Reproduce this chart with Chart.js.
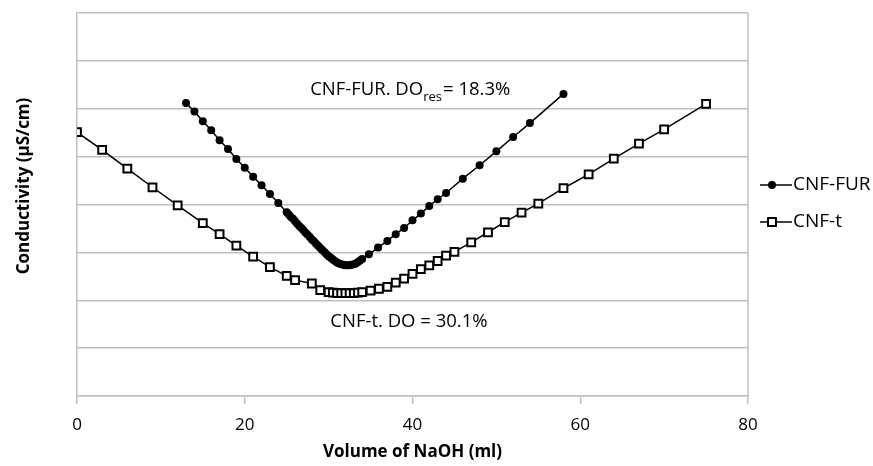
<!DOCTYPE html>
<html>
<head>
<meta charset="utf-8">
<script src="https://cdn.jsdelivr.net/npm/chart.js@4"></script>
<style>
  html, body { margin: 0; padding: 0; background: #fff; }
  #wrap { width: 873px; height: 466px; }
</style>
</head>
<body>
<div id="wrap"><canvas id="myChart" width="873" height="466"></canvas></div>
<script>
// CNF-FUR titration (volume of NaOH in ml, conductivity)
const furVol = [13,14,15,16,17,18,19,20,21,22,23,24,25,25.25,25.5,25.75,26,26.25,26.5,26.75,27,27.25,27.5,27.75,28,28.25,28.5,28.75,29,29.25,29.5,29.75,30,30.25,30.5,30.75,31,31.25,31.5,31.75,32,32.25,32.5,32.75,33,33.25,33.5,33.75,34,34.8,35.9,37,38,39,40,41,42,43,44,46,48,50,52,54,58];
const furCond = [6.12,5.94,5.74,5.55,5.34,5.16,4.95,4.77,4.58,4.40,4.22,4.03,3.84,3.79,3.74,3.70,3.65,3.60,3.55,3.51,3.46,3.41,3.37,3.32,3.27,3.23,3.18,3.14,3.09,3.05,3.01,2.96,2.92,2.89,2.85,2.82,2.79,2.77,2.75,2.74,2.73,2.73,2.73,2.74,2.75,2.77,2.80,2.83,2.86,2.96,3.10,3.24,3.38,3.51,3.67,3.81,3.97,4.11,4.24,4.54,4.82,5.11,5.41,5.70,6.31];

// CNF-t titration
const tVol = [0,3,6,9,12,15,17,19,21,23,25,26,28,29,30,30.5,31,31.5,32,32.5,33,33.5,34,35,36,37,38,39,40,41,42,43,44,45,47,49,51,53,55,58,61,64,67,70,75];
const tCond = [5.51,5.14,4.75,4.36,3.98,3.61,3.38,3.14,2.91,2.69,2.51,2.42,2.35,2.21,2.17,2.16,2.15,2.15,2.15,2.15,2.15,2.16,2.17,2.20,2.24,2.28,2.37,2.45,2.55,2.65,2.73,2.82,2.93,3.01,3.21,3.42,3.63,3.83,4.02,4.34,4.63,4.96,5.27,5.57,6.10];

const xTicks = [0, 20, 40, 60, 80];
const seriesNames = ['CNF-FUR', 'CNF-t'];
const yTitle = 'Conductivity (µS/cm)';
const xTitle = 'Volume of NaOH (ml)';

const FONT = "'Open Sans', sans-serif";
const GRID = '#bfbfbf';

// annotation texts, placed in data units
const notes = [
  { x: 27.8, y: 6.39, parts: [['CNF-FUR. DO', 0], ['res', 1], ['= 18.3%', 0]] },
  { x: 30.2, y: 1.55, parts: [['CNF-t. DO = 30.1%', 0]] }
];

const toPoints = (xs, ys) => xs.map((v, i) => ({ x: v, y: ys[i] }));

// right border, y title, annotations and the legend
const extras = {
  id: 'extras',
  afterDraw(chart) {
    const c = chart.ctx;
    const a = chart.chartArea;
    const xs = chart.scales.x, ys = chart.scales.y;
    c.save();
    c.strokeStyle = GRID;
    c.lineWidth = 1.5;
    c.beginPath();
    c.moveTo(a.right, a.top);
    c.lineTo(a.right, a.bottom);
    c.stroke();

    // y axis title
    c.save();
    c.translate(24, 186);
    c.rotate(-Math.PI / 2);
    c.font = 'bold 17px ' + FONT;
    c.fillStyle = '#000';
    c.textAlign = 'center';
    c.textBaseline = 'middle';
    c.fillText(yTitle, 0, 0);
    c.restore();

    c.fillStyle = '#000';
    c.textBaseline = 'middle';
    c.textAlign = 'left';
    notes.forEach(n => {
      let px = xs.getPixelForValue(n.x);
      const py = ys.getPixelForValue(n.y);
      n.parts.forEach(([txt, sub]) => {
        c.font = (sub ? '13px ' : '18.5px ') + FONT;
        c.fillText(txt, px, sub ? py + 7 : py);
        px += c.measureText(txt).width + (sub ? 1 : 0);
      });
    });

    // legend
    const lx = 760, rows = [185, 222];
    c.font = '19px ' + FONT;
    chart.data.datasets.forEach((ds, i) => {
      const y = rows[i];
      c.strokeStyle = '#000';
      c.lineWidth = 1.5;
      c.beginPath();
      c.moveTo(lx, y);
      c.lineTo(lx + 32, y);
      c.stroke();
      if (i === 0) {
        c.fillStyle = '#000';
        c.beginPath();
        c.arc(lx + 12, y, 4, 0, Math.PI * 2);
        c.fill();
      } else {
        c.fillStyle = '#fff';
        c.lineWidth = 2;
        c.fillRect(lx + 8, y - 4, 8, 8);
        c.strokeRect(lx + 8, y - 4, 8, 8);
      }
      c.fillStyle = '#000';
      c.fillText(ds.label, lx + 33, y);
    });
    c.restore();
  }
};

const ctx = document.getElementById('myChart').getContext('2d');
new Chart(ctx, {
  type: 'line',
  data: {
    datasets: [
      {
        label: seriesNames[0],
        data: toPoints(furVol, furCond),
        borderColor: '#000',
        borderWidth: 1.5,
        pointStyle: 'circle',
        pointRadius: 4,
        pointBackgroundColor: '#000',
        pointBorderColor: '#000',
        pointBorderWidth: 0,
        tension: 0
      },
      {
        label: seriesNames[1],
        data: toPoints(tVol, tCond),
        borderColor: '#000',
        borderWidth: 1.5,
        pointStyle: 'rect',
        pointRadius: 5.5,
        pointBackgroundColor: '#fff',
        pointBorderColor: '#000',
        pointBorderWidth: 2,
        tension: 0
      }
    ]
  },
  options: {
    responsive: false,
    animation: false,
    layout: { padding: { top: 13, right: 125, left: 0, bottom: 0 } },
    plugins: { legend: { display: false }, tooltip: { enabled: false } },
    scales: {
      x: {
        type: 'linear',
        min: 0,
        max: 80,
        afterBuildTicks: s => { s.ticks = xTicks.map(v => ({ value: v })); },
        grid: { drawOnChartArea: false, drawTicks: true, tickLength: 8, color: GRID, lineWidth: 1.5 },
        border: { color: GRID, width: 1.5 },
        ticks: { color: '#000', font: { family: FONT, size: 17 }, padding: 11, maxRotation: 0 },
        title: { display: true, text: xTitle, color: '#000', font: { family: FONT, size: 17, weight: 'bold' }, padding: { top: 1 } },
        afterFit: s => { s.height = 70; }
      },
      y: {
        min: 0,
        max: 8,
        ticks: { display: false, stepSize: 1 },
        grid: { color: GRID, lineWidth: 1.5, drawTicks: false },
        border: { color: GRID, width: 1.5 },
        afterFit: s => { s.width = 77; }
      }
    }
  },
  plugins: [extras]
});
</script>
</body>
</html>
